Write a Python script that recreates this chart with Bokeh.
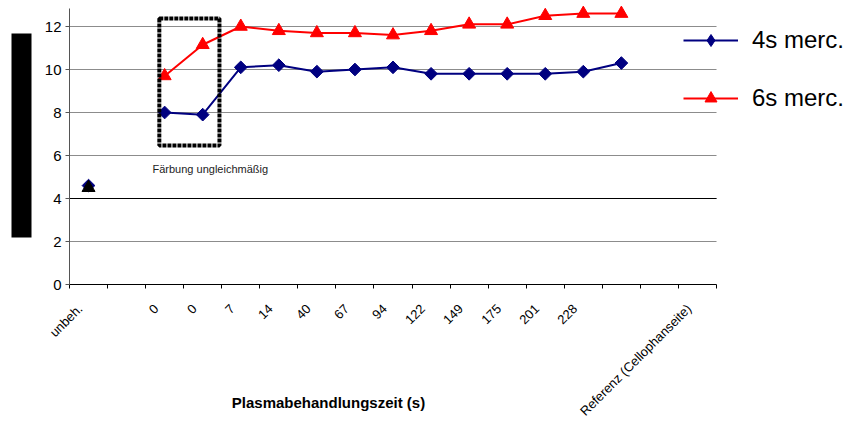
import math
from bokeh.plotting import figure
from bokeh.models import Range1d, FixedTicker, BoxAnnotation, Label, Legend, LegendItem
from bokeh.embed import file_html
from bokeh.resources import INLINE

nan = float("nan")

# categories (x tick labels)
categories = ["unbeh.", "", "0", "0", "7", "14", "40", "67", "94", "122",
              "149", "175", "201", "228", "", "", "Referenz (Cellophanseite)"]
# series
merc4 = [4.6, nan, 8.0, 7.9, 10.1, 10.2, 9.9, 10.0, 10.1, 9.8, 9.8, 9.8,
         9.8, 9.9, 10.3, nan, nan]
merc6 = [4.5, nan, 9.7, 11.15, 12.0, 11.8, 11.7, 11.7, 11.6, 11.8, 12.1,
         12.1, 12.5, 12.6, 12.6, nan, nan]
y_ticks = [0, 2, 4, 6, 8, 10, 12]
series_names = ["4s merc.", "6s merc."]
x_title = "Plasmabehandlungszeit (s)"
note = "Färbung ungleichmäßig"

n = len(categories)
xs = [i + 0.5 for i in range(n)]
FONT = "Liberation Sans"

# layout (pixels)
W, H = 850, 434
PX0, PY0 = 69, 284          # pixel position of plot origin
CW, UH = 38.06, 21.5        # pixels per category / per y unit
Y_TOP = 12.84
LABEL_SHIFT = 0.22          # rotated labels sit a little left of the category centre

p = figure(width=W, height=H, output_backend="svg", toolbar_location=None,
           x_range=Range1d(-PX0 / CW, (W - PX0) / CW),
           y_range=Range1d(-(H - PY0) / UH, PY0 / UH),
           min_border_left=0, min_border_right=0, min_border_top=0,
           min_border_bottom=0)
p.outline_line_color = None
p.background_fill_color = "white"
p.xgrid.visible = False
p.ygrid.visible = False

# axes
label_pos = [x - LABEL_SHIFT for x in xs]
xa = p.xaxis[0]
xa.fixed_location = 0
xa.bounds = (0, n)
xa.ticker = FixedTicker(ticks=label_pos, minor_ticks=list(range(n + 1)))
xa.major_label_overrides = {xv: lab for xv, lab in zip(label_pos, categories)}
xa.major_tick_line_color = None
xa.minor_tick_line_color = "black"
xa.minor_tick_in = 0
xa.minor_tick_out = 4
xa.axis_line_color = "black"
xa.major_label_orientation = math.pi / 4
xa.major_label_text_font = FONT
xa.major_label_text_font_size = "13px"
xa.major_label_text_color = "black"
xa.major_label_standoff = 16

ya = p.yaxis[0]
ya.fixed_location = 0
ya.bounds = (0, Y_TOP)
ya.ticker = FixedTicker(ticks=y_ticks)
ya.major_tick_in = 0
ya.major_tick_out = 4
ya.minor_tick_line_color = None
ya.axis_line_color = "#555555"
ya.major_tick_line_color = "#555555"
ya.major_label_text_font = FONT
ya.major_label_text_font_size = "15px"
ya.major_label_text_color = "black"
ya.major_label_standoff = 4

# horizontal grid lines over the category span
gy = [t for t in y_ticks if t > 0]
p.segment(x0=[0] * len(gy), y0=gy, x1=[n] * len(gy), y1=gy,
          line_color="#8c8c8c", line_width=1)
p.segment(x0=[0], y0=[y_ticks[2]], x1=[n], y1=[y_ticks[2]],
          line_color="black", line_width=1)

# series
l4 = p.line(xs, merc4, line_color="#000080", line_width=2)
p.scatter(xs, merc4, marker="square", angle=math.pi / 4, size=9,
          fill_color="#000080", line_color="#000080")
l6 = p.line(xs, merc6, line_color="#ff0000", line_width=2)
m6 = p.scatter(xs[1:], merc6[1:], marker="triangle", size=13,
               fill_color="#ff0000", line_color="#ff0000")
p.scatter(xs[:1], merc6[:1], marker="triangle", size=13,
          fill_color="black", line_color="black")
# legend-only diamond key (a single empty point, nothing drawn in the plot)
m4_key = p.scatter([nan], [nan], marker="diamond", size=15,
                   fill_color="#000080", line_color="#000080")

# dotted box and note
p.add_layout(BoxAnnotation(left=2.36, right=3.94, bottom=6.47, top=12.37,
                           fill_color=None, fill_alpha=0, line_color="black",
                           line_alpha=1, line_width=4, line_dash="4 1"))
p.add_layout(Label(x=(152 - PX0) / CW, y=(PY0 - 168) / UH, text=note,
                   text_font=FONT, text_font_size="11px",
                   text_baseline="middle", text_color="#222222"))

# x title
p.add_layout(Label(x=(328 - PX0) / CW, y=(PY0 - 402) / UH, text=x_title,
                   text_font=FONT, text_font_size="15px",
                   text_font_style="bold", text_align="center",
                   text_baseline="middle", text_color="black"))

# redacted y label block
p.add_layout(BoxAnnotation(left=(11 - PX0) / CW, right=(31 - PX0) / CW,
                           bottom=(PY0 - 237) / UH, top=(PY0 - 33) / UH,
                           fill_color="black", fill_alpha=1, line_color=None))

legend = Legend(items=[LegendItem(label=series_names[0], renderers=[l4, m4_key]),
                       LegendItem(label=series_names[1], renderers=[l6, m6])],
                location=(683, H - 113), orientation="vertical",
                glyph_width=55, glyph_height=30, label_height=30,
                label_standoff=14, spacing=28, padding=0, margin=0,
                border_line_color=None, background_fill_alpha=0,
                label_text_font=FONT, label_text_font_size="24px",
                label_text_color="black")
p.add_layout(legend, "center")

open("out.html", "w").write(file_html(p, INLINE))
